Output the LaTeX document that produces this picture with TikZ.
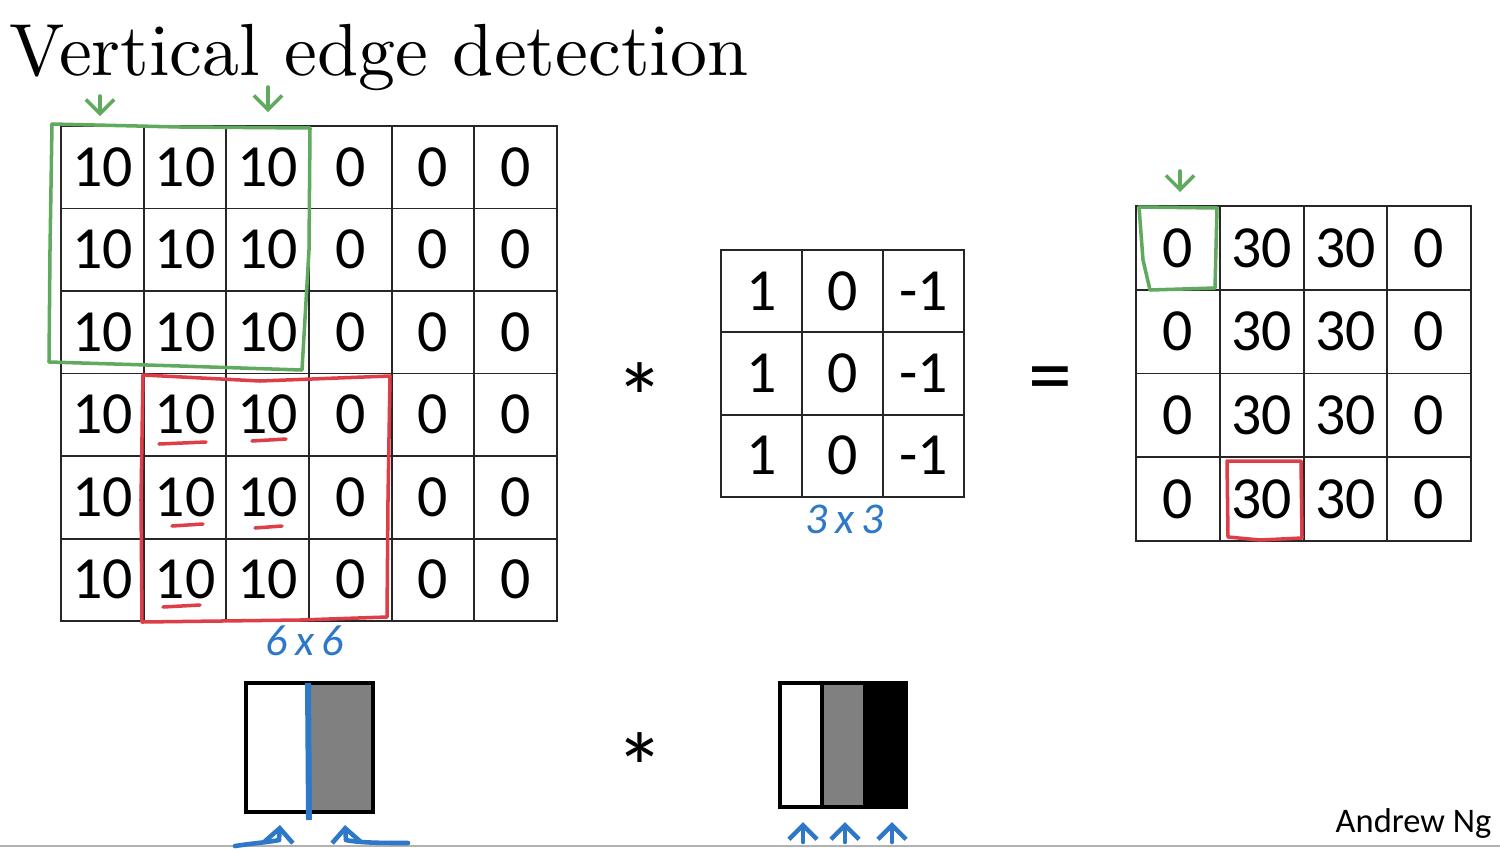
\documentclass[tikz,border=0pt]{standalone}
\usepackage{fontspec}
\newfontfamily\cellfont{Carlito}
\newfontfamily\titlefont{lmroman10-regular.otf}
\usetikzlibrary{arrows.meta, positioning, calc}
\definecolor{pengreen}{RGB}{95,170,95}
\definecolor{penred}{RGB}{222,62,72}
\definecolor{penblue}{RGB}{45,120,200}
\definecolor{midgrey}{RGB}{128,128,128}
\tikzset{
	cell/.style={draw=black!85, line width=0.55pt, inner sep=0pt, font=\cellfont\fontsize{17}{17}\selectfont},
	bigcell/.style={cell, minimum width=0.827cm, minimum height=0.825cm},
	kercell/.style={cell, minimum width=0.81cm, minimum height=0.823cm},
	outcell/.style={cell, minimum width=0.8375cm, minimum height=0.8375cm},
	op/.style={font=\cellfont\fontsize{28}{28}\selectfont, inner sep=0pt},
	hand/.style={line width=1pt, line cap=round, line join=round},
	greenpen/.style={hand, pengreen},
	redpen/.style={hand, penred},
	bluepen/.style={hand, penblue, line width=1.3pt},
	dims/.style={penblue, font=\cellfont\itshape\fontsize{12.5}{13}\selectfont, inner sep=0pt},
	tip/.style={-{Straight Barb[length=4pt,width=8pt]}}
}
\begin{document}
\begin{tikzpicture}[x=0.01cm,y=-0.01cm]
	\fill[white] (0,0) rectangle (1500,848);
	\useasboundingbox (0,0) rectangle (1500,848);
	\draw[gray!60, line width=0.8pt] (0,846) -- (1500,846);

	\node[anchor=base west, inner sep=0pt, font=\titlefont\fontsize{21}{24}\selectfont] (title) at (9,75) {Vertical edge detection};

	% 6x6 input
	\foreach \r in {1,...,6}
		\foreach \c in {1,...,6}
			\node[bigcell] (I-\r-\c) at ({61+82.67*(\c-0.5)},{126+82.5*(\r-0.5)}) {\ifnum\c<4 10\else 0\fi};

	% 3x3 filter
	\foreach \r in {1,2,3}
		\foreach \c/\v in {1/1,2/0,3/-1}
			\node[kercell] (K-\r-\c) at ({721+81*(\c-0.5)},{250+82.3*(\r-0.5)}) {\v};

	% 4x4 output
	\foreach \r in {1,...,4}
		\foreach \c in {1,...,4}
			\node[outcell] (O-\r-\c) at ({1136+83.75*(\c-0.5)},{206+83.75*(\r-0.5)}) {\ifnum\c=1 0\else\ifnum\c=4 0\else 30\fi\fi};

	\node[op] (star) at (640,398) {*};
	\node[op, font=\cellfont\fontsize{25}{25}\selectfont] (eq) at (1050,386) {=};

	\node[dims] (size6) at (305,641) {6\,x\,6};
	\node[dims] (size3) at (845,519) {3\,x\,3};

	% green window and its output
	\draw[greenpen] (52,124) -- (180,127) -- (310,128) -- (309,250) -- (302,370) -- (180,366) -- (49,362) -- (50,250) -- cycle;
	\draw[greenpen, tip] (100,96) -- (100,116);
	\draw[greenpen, tip] (268,87) -- (268,112);
	\draw[greenpen] (1139,207) -- (1217,208) -- (1215,288) -- (1150,290) -- (1143,260) -- cycle;
	\draw[greenpen, tip] (1180,171) -- (1180,192);

	% red window and its output
	\draw[redpen] (143,375) -- (260,381) -- (390,376) -- (388,500) -- (387,617) -- (300,620) -- (142,622) -- (141,500) -- cycle;
	\foreach \a/\b/\y in {159/206/444, 252/286/441, 172/203/526, 255/282/528, 163/200/607}
		\draw[redpen] (\a,\y) -- (\b,\y-2);
	\draw[redpen] (1227,461) -- (1301,461) -- (1302,538) -- (1260,540) -- (1228,537) -- cycle;

	% images
	\fill[white] (246,683) rectangle (308,812);
	\fill[midgrey] (308,683) rectangle (373,812);
	\draw[line width=1.2pt] (246,683) rectangle (373,812);
	\draw[penblue, line width=1.7pt] (308,683) -- (309,820);
	\draw[bluepen] (235,846) .. controls (255,843) and (270,842) .. (279,840);
	\draw[bluepen, tip] (279,840) -- (280,825);
	\draw[bluepen, tip] (346,840) -- (345,825);
	\draw[bluepen] (346,840) .. controls (360,843) and (385,843) .. (408,843);

	\node[op] (star2) at (640,768) {*};

	\fill[white] (780,683) rectangle (822,807);
	\fill[midgrey] (822,683) rectangle (863,807);
	\fill[black] (863,683) rectangle (906,807);
	\draw[line width=1.2pt] (780,683) rectangle (906,807);
	\draw[line width=1pt] (822,683) -- (822,807);
	\foreach \x in {803,845,892}
		\draw[bluepen, tip] (\x,842) -- (\x,822);

	\node[anchor=base east, inner sep=0pt, font=\cellfont\fontsize{9.8}{10}\selectfont] (author) at (1492,832) {Andrew Ng};
\end{tikzpicture}
\end{document}
